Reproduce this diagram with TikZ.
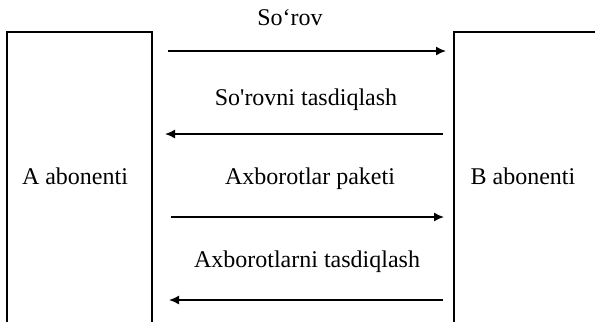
\documentclass[tikz,border=0pt]{standalone}
\usepackage{fontspec}
\setmainfont{Liberation Serif}
\usetikzlibrary{positioning,arrows.meta}

\begin{document}
\begin{tikzpicture}[
	x=0.5pt, y=-0.5pt,
	every node/.style={font=\fontsize{12}{14}\selectfont, inner sep=0pt},
	side/.style={line width=0.7pt},
	msg/.style={anchor=base},
	arrow/.style={-{Latex[length=5pt, width=4.5pt]}, line width=0.75pt}
	]
	
	\useasboundingbox (0,0) rectangle (595,323);
	
	% abonents
	\draw[side] (7,322) -- (7,32) -- (152,32) -- (152,322);
	\draw[side] (595,32) -- (454,32) -- (454,322);
	\node[msg] (A) at (75,184) {A abonenti};
	\node[msg] (B) at (523,184) {B abonenti};
	
	\coordinate (a1) at (168,51);  \coordinate (b1) at (446,51);
	\coordinate (b2) at (443,134); \coordinate (a2) at (165,134);
	\coordinate (a3) at (171,217); \coordinate (b3) at (444,217);
	\coordinate (b4) at (443,300); \coordinate (a4) at (169,300);
	
	\node[msg] (m1) at (290,25) {So‘rov};
	\node[msg] (m2) at (306,105) {So\textquotesingle rovni tasdiqlash};
	\node[msg] (m3) at (310,184) {Axborotlar paketi};
	\node[msg] (m4) at (307,267) {Axborotlarni tasdiqlash};
	
	\draw[arrow] (a1) -- (b1);
	\draw[arrow] (b2) -- (a2);
	\draw[arrow] (a3) -- (b3);
	\draw[arrow] (b4) -- (a4);
	
\end{tikzpicture}
\end{document}
